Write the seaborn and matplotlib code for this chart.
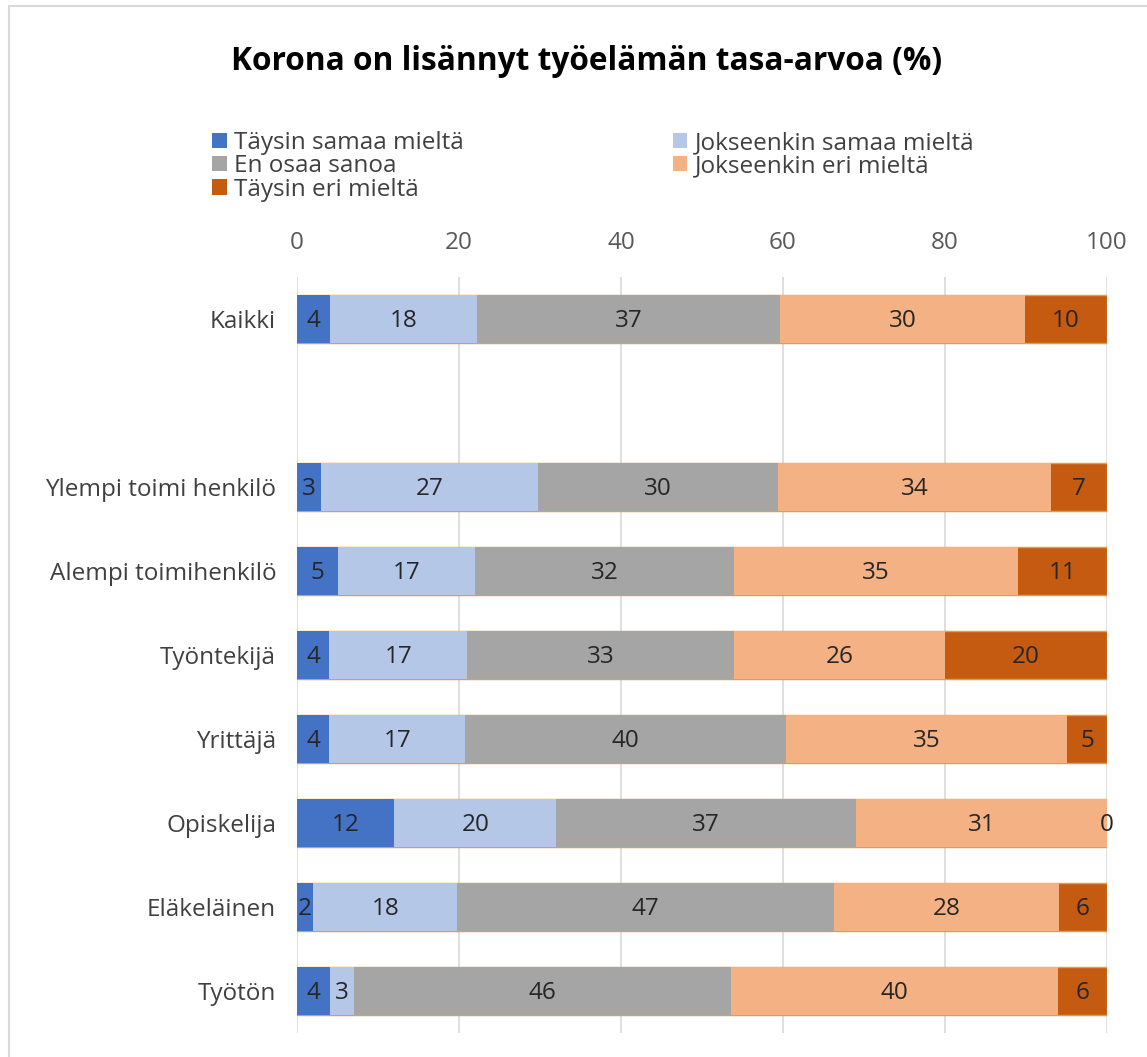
import numpy as np
import pandas as pd
import matplotlib
matplotlib.use("Agg")
import matplotlib.pyplot as plt
from matplotlib.patches import Patch
from matplotlib.lines import Line2D
import seaborn as sns

# Survey answers (%) per respondent group
groups = ["Kaikki", "Ylempi toimi henkilö", "Alempi toimihenkilö", "Työntekijä",
          "Yrittäjä", "Opiskelija", "Eläkeläinen", "Työtön"]
# a blank row separates the overall figure from the groups
row_order = ["Kaikki", " ", "Ylempi toimi henkilö", "Alempi toimihenkilö", "Työntekijä",
             "Yrittäjä", "Opiskelija", "Eläkeläinen", "Työtön"]

responses = ["Täysin samaa mieltä", "Jokseenkin samaa mieltä", "En osaa sanoa",
             "Jokseenkin eri mieltä", "Täysin eri mieltä"]
taysin_samaa = [4, 3, 5, 4, 4, 12, 2, 4]
jokseenkin_samaa = [18, 27, 17, 17, 17, 20, 18, 3]
en_osaa = [37, 30, 32, 33, 40, 37, 47, 46]
jokseenkin_eri = [30, 34, 35, 26, 35, 31, 28, 40]
taysin_eri = [10, 7, 11, 20, 5, 0, 6, 6]

colors = ["#4472C4", "#B4C7E7", "#A5A5A5", "#F4B183", "#C55A11"]

series = [taysin_samaa, jokseenkin_samaa, en_osaa, jokseenkin_eri, taysin_eri]

# 100 % stacked layout: each row is scaled to its own total
vals = np.array(series, dtype=float).T           # rows = groups
shares = vals / vals.sum(axis=1, keepdims=True) * 100
ends = np.cumsum(shares, axis=1)
starts = ends - shares

records = []
for gi, g in enumerate(groups):
    for ri, r in enumerate(responses):
        records.append({"group": g, "response": r, "value": vals[gi, ri],
                        "end": ends[gi, ri], "mid": (starts[gi, ri] + ends[gi, ri]) / 2})
df = pd.DataFrame(records)

sns.set_theme(style="white")
FONT = ["Open Sans", "DejaVu Sans"]
plt.rcParams["font.family"] = FONT
FS = 17.5

W, H = 1147, 1057
fig = plt.figure(figsize=(W / 100, H / 100), dpi=100)
ax = fig.add_axes([297 / W, 24 / H, 810 / W, 756 / H])

# overlay cumulative bars, longest first
for ri in reversed(range(len(responses))):
    sub = df[df["response"] == responses[ri]]
    edge = "#E0A040" if ri == 4 else "none"
    sns.barplot(data=sub, x="end", y="group", order=row_order, orient="h",
                color=colors[ri], saturation=1, width=0.57, errorbar=None,
                edgecolor=edge, linewidth=1.0 if ri == 4 else 0, ax=ax)

# value labels in the middle of each segment
for _, row in df.iterrows():
    ypos = row_order.index(row["group"])
    ax.text(row["mid"], ypos + 0.02, f"{int(row['value'])}", ha="center", va="center",
            fontsize=FS, color="#262626", family=FONT)

ax.set_xlim(0, 100)
ax.set_xticks(np.arange(0, 101, 20))
ax.xaxis.tick_top()
ax.set_xlabel("")
ax.set_ylabel("")
ax.xaxis.grid(True, color="#D9D9D9", linewidth=1.2)
ax.set_axisbelow(True)
for s in ax.spines.values():
    s.set_visible(False)
ax.tick_params(axis="x", length=0, pad=16, labelsize=FS, labelcolor="#595959")
ax.tick_params(axis="y", length=0, pad=15, labelsize=FS, labelcolor="#404040")

fig.text(587 / W, 1 - 62 / H, "Korona on lisännyt työelämän tasa-arvoa (%)",
         ha="center", va="center", fontsize=22.8, fontweight="bold", color="black")

# legend filled column by column: left column 3 entries, right column 2
leg_idx = [0, 2, 4, 1, 3]
handles = [Patch(facecolor=colors[i], edgecolor="none") for i in leg_idx]
labels = [responses[i] for i in leg_idx]
fig.legend(handles, labels, loc="upper left", bbox_to_anchor=(212 / W, 1 - 131 / H),
           ncol=2, frameon=False, fontsize=FS, handlelength=0.6, handleheight=0.6,
           handletextpad=0.3, labelspacing=-0.03, columnspacing=8.6,
           borderaxespad=0, borderpad=0, labelcolor="#404040")

# chart area border
fig.add_artist(Line2D([8.5 / W, 8.5 / W], [0, 1 - 5.5 / H], transform=fig.transFigure,
                      color="#D9D9D9", linewidth=1.5))
fig.add_artist(Line2D([8.5 / W, 1], [1 - 5.5 / H, 1 - 5.5 / H], transform=fig.transFigure,
                      color="#D9D9D9", linewidth=1.5))

fig.savefig("out.png", dpi=100, facecolor="white")
